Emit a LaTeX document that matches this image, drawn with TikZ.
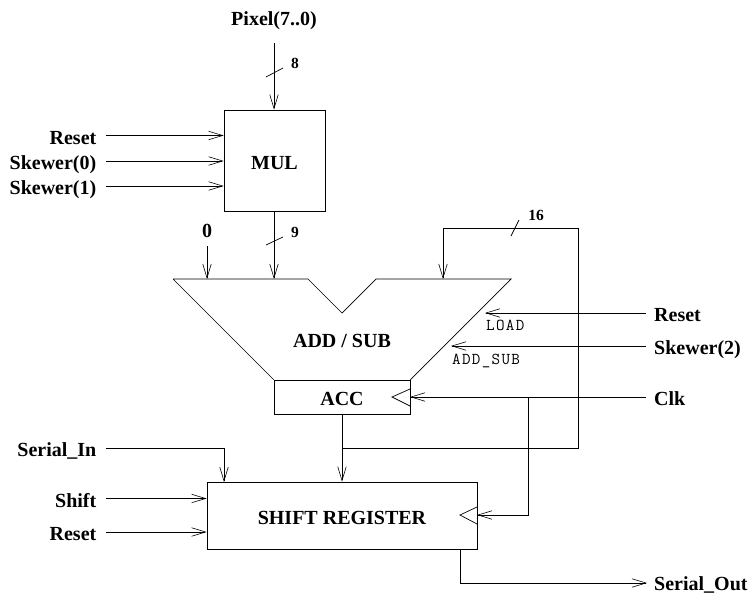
\documentclass[tikz,border=0pt]{standalone}
\usepackage{fontspec}
\setmainfont{Liberation Serif}
\setmonofont[LetterSpace=8]{Latin Modern Mono}
\usetikzlibrary{arrows.meta}
\tikzset{
  x=1pt,y=-1pt,
  ln/.style={draw=black,line width=0.7pt},
  wire/.style={ln,-{Straight Barb[length=14pt,width=8.5pt,line width=0.6pt]}},
  plain/.style={ln},
  bold/.style={font=\bfseries\fontsize{20}{22}\selectfont},
  box/.style={draw=black,line width=0.7pt,inner sep=0pt,bold,text height=17pt,text depth=0pt},
  lab/.style={inner sep=0pt,bold,text height=17pt,text depth=0pt},
  sig/.style={inner sep=0pt,anchor=base west,font=\ttfamily\fontsize{16.6}{18}\selectfont},
  txt/.style={inner sep=0pt,anchor=base,bold},
  num/.style={inner sep=0pt,anchor=base,font=\bfseries\fontsize{15.5}{16}\selectfont},
}
\begin{document}
\begin{tikzpicture}
\useasboundingbox (0,0) rectangle (752,594);
% blocks
\node[box,minimum width=101pt,minimum height=101pt] (mul) at (274.5,160.5) {MUL};
\node[box,minimum width=136pt,minimum height=34pt] (acc) at (342,397) {ACC};
\node[box,minimum width=270pt,minimum height=67pt] (sr) at (342,515.5) {SHIFT REGISTER};
\draw[ln,line join=miter] (173,279) coordinate (tl) -- (308,279) -- (342,313) -- (376,279) -- (511,279) coordinate (tr)
  -- (acc.north east) (acc.north west) -- (tl);
\node[txt] (addsub) at (342,347) {ADD / SUB};
% clock marks
\draw[ln] (410,389) -- (392,397) -- (410,406);
\draw[ln] (477,507) -- (460,515) -- (477,524);
% labels
\node[txt] (lpix) at (274,26) {Pixel(7..0)};
\node[lab,anchor=east] (lr1) at (96.5,135.5) {Reset};
\node[lab,anchor=east] (ls0) at (96.5,161) {Skewer(0)};
\node[lab,anchor=east] (ls1) at (96.5,186) {Skewer(1)};
\node[txt] (lzero) at (207,237) {0};
\node[lab,anchor=east] (lsi) at (96.5,448) {Serial\_In};
\node[lab,anchor=east] (lsh) at (96.5,498.5) {Shift};
\node[lab,anchor=east] (lr3) at (96.5,532) {Reset};
\node[lab,anchor=west] (lr2) at (654,313) {Reset};
\node[lab,anchor=west] (ls2) at (654,346) {Skewer(2)};
\node[lab,anchor=west] (lclk) at (654,397) {Clk};
\node[lab,anchor=west,text height=14pt] (lso) at (654,583) {Serial\_Out};
\node[sig] (tload) at (486,330) {LOAD};
\node[sig] (tadd) at (452,364) {ADD\_SUB};
\node[num] (n8) at (295,68) {8};
\node[num] (n9) at (295,237) {9};
\node[num] (n16) at (536,220) {16};
% connectors
\coordinate (p8) at (274,43);
\draw[wire] (p8) -- (mul.north -| p8);
\draw[wire] ([xshift=9pt]lr1.east) -- (mul.west |- lr1.east);
\draw[wire] ([xshift=9pt]ls0.east) -- (mul.west |- ls0.east);
\draw[wire] ([xshift=9pt]ls1.east) -- (mul.west |- ls1.east);
\coordinate (z0) at (207,246);
\draw[wire] (z0) -- (207,279);
\draw[wire] (mul.south -| p8) -- (274,279);
\draw[wire] (443,228) -- (443,279);
\draw[plain] (342,448) -- (578,448) -- (578,228) -- (443,228);
\draw[wire] ([xshift=-8pt]lr2.west) -- (485,313);
\draw[wire] ([xshift=-8pt]ls2.west) -- (451,346);
\draw[wire] ([xshift=-8pt]lclk.west) -- (410,397);
\draw[wire] (528,397) -- (528,515) -- (477,515);
\draw[wire] (acc.south) -- (sr.north);
\draw[wire] ([xshift=9pt]lsi.east) -- (224,448) -- (224,482);
\draw[wire] ([xshift=9pt]lsh.east) -- (sr.west |- lsh.east);
\draw[wire] ([xshift=9pt]lr3.east) -- (sr.west |- lr3.east);
\draw[wire] (460,549) -- (460,583) -- ([xshift=-7pt]lso.west);
% bus ticks
\draw[ln] (266,77) -- (283,68);
\draw[ln] (266,245) -- (283,237);
\draw[ln] (511,236) -- (519,220);
\end{tikzpicture}
\end{document}
